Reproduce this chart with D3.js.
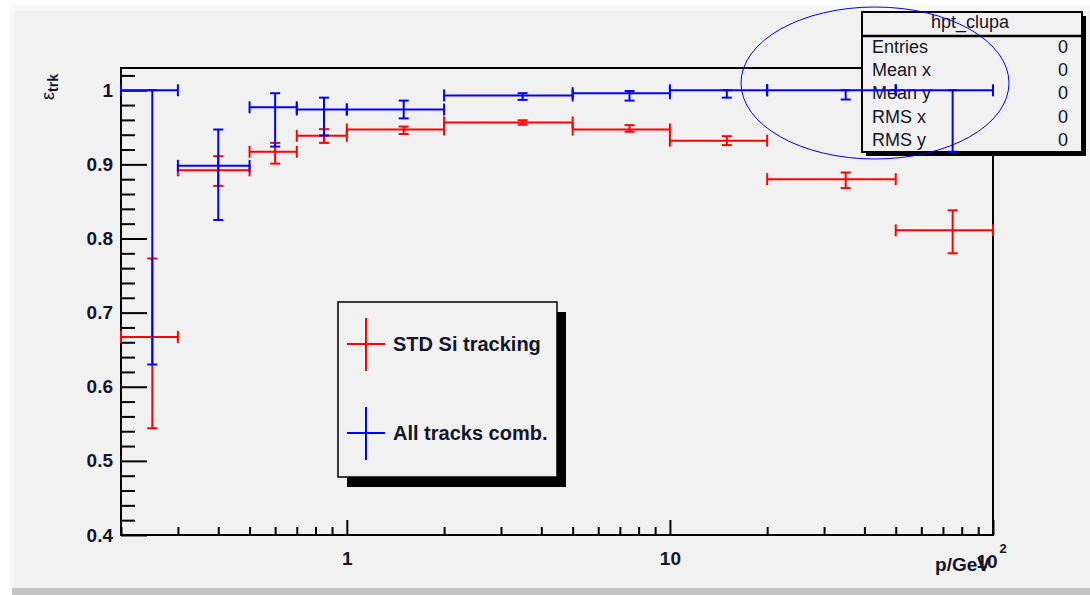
<!DOCTYPE html>
<html>
<head>
<meta charset="utf-8">
<script src="https://cdn.jsdelivr.net/npm/d3@7"></script>
<style>
  body { margin: 0; background: #fff; }
  svg { display: block; font-family: "Liberation Sans", Arial, sans-serif; }
</style>
</head>
<body>
<div id="chart"></div>
<script>
// bins in momentum (GeV)
const binLo = [0.2, 0.3, 0.5, 0.7, 1, 2, 5, 10, 20, 50];
const binHi = [0.3, 0.5, 0.7, 1, 2, 5, 10, 20, 50, 100];
const pCenter = [0.25, 0.4, 0.6, 0.85, 1.5, 3.5, 7.5, 15, 35, 75];

// STD Si tracking
const stdEff = [0.667, 0.892, 0.917, 0.9385, 0.947, 0.9565, 0.947, 0.932, 0.880, 0.811];
const stdErrUp = [0.106, 0.019, 0.012, 0.009, 0.004, 0.003, 0.006, 0.006, 0.009, 0.027];
const stdErrDown = [0.123, 0.021, 0.016, 0.0095, 0.006, 0.003, 0.003, 0.006, 0.012, 0.031];

// All tracks comb.
const allEff = [1.0, 0.898, 0.977, 0.974, 0.974, 0.993, 0.996, 1.0, 1.0, 1.0];
const allErrUp = [0, 0.049, 0.019, 0.016, 0.012, 0.003, 0.003, 0, 0, 0];
const allErrDown = [0.37, 0.073, 0.053, 0.035, 0.012, 0.006, 0.010, 0.010, 0.0125, 0.083];

// axis ticks
const yMajor = [0.4, 0.5, 0.6, 0.7, 0.8, 0.9, 1];
const yLabels = ["0.4", "0.5", "0.6", "0.7", "0.8", "0.9", "1"];
const xMajor = [1, 10, 100];
const xLabels = ["1", "10", ""];

const statNames = ["Entries", "Mean x", "Mean y", "RMS x", "RMS y"];
const statValues = ["0", "0", "0", "0", "0"];

const W = 1090, H = 595;
const svg = d3.select("#chart").append("svg").attr("width", W).attr("height", H);

// canvas
svg.append("rect").attr("width", W).attr("height", H).attr("fill", "#fff");
svg.append("rect").attr("x", 10).attr("y", 5).attr("width", W - 10).attr("height", 585).attr("fill", "#f7f7f7");
svg.append("rect").attr("x", 14).attr("y", 11).attr("width", W - 14).attr("height", 577).attr("fill", "#f1f1f1");
svg.append("rect").attr("x", 12).attr("y", 588).attr("width", W - 12).attr("height", 7).attr("fill", "#c4c4c4");

const padL = 121, padR = 993, padT = 68, padB = 535;
const x = d3.scaleLog().domain([0.2, 100]).range([padL, padR]);
const y = d3.scaleLinear().domain([0.4, 1.03]).range([padB, padT]);

// frame
svg.append("rect").attr("x", padL).attr("y", padT)
   .attr("width", padR - padL).attr("height", padB - padT)
   .attr("fill", "none").attr("stroke", "#000").attr("stroke-width", 2);

// y axis
const yMinor = d3.range(0.42, 1.03, 0.02).filter(v => !yMajor.some(m => Math.abs(m - v) < 1e-6));
svg.append("g").attr("transform", `translate(${padL},0)`)
   .call(d3.axisLeft(y).tickValues(yMajor).tickSize(-26).tickPadding(8)
        .tickFormat((d, i) => yLabels[i]));
svg.append("g").attr("transform", `translate(${padL},0)`)
   .call(d3.axisLeft(y).tickValues(yMinor).tickSize(-14).tickFormat(""));

// x axis
const xMinor = [];
[0.1, 1, 10].forEach(dec => { for (let k = 2; k <= 9; k++) { const v = k * dec; if (v >= 0.2) xMinor.push(v); } });
svg.append("g").attr("transform", `translate(0,${padB})`)
   .call(d3.axisBottom(x).tickValues(xMajor).tickSize(-15).tickPadding(17)
        .tickFormat((d, i) => xLabels[i]));
svg.append("g").attr("transform", `translate(0,${padB})`)
   .call(d3.axisBottom(x).tickValues(xMinor).tickSize(-8).tickFormat(""));

svg.selectAll(".domain").remove();
svg.selectAll(".tick line").attr("stroke", "#000").attr("stroke-width", 2);
svg.selectAll(".tick text").attr("fill", "#14142a").attr("font-size", 19)
   .attr("font-weight", "bold").attr("font-family", "Liberation Sans, Arial, sans-serif");

// 10^2 label and axis titles
const lab = svg.append("g").attr("fill", "#14142a").attr("font-weight", "bold");
lab.append("text").attr("x", x(100) - 6).attr("y", 568).attr("text-anchor", "middle")
   .attr("font-size", 19).text("10");
lab.append("text").attr("x", x(100) + 10).attr("y", 553).attr("text-anchor", "middle")
   .attr("font-size", 13).text("2");
lab.append("text").attr("x", 990).attr("y", 571).attr("text-anchor", "end")
   .attr("font-size", 19).text("p/GeV");

const yt = svg.append("text").attr("transform", "translate(54,100) rotate(-90)")
   .attr("fill", "#14142a").attr("font-size", 18);
yt.append("tspan").text("\u03b5");
yt.append("tspan").attr("dy", 4).attr("font-size", 14).attr("font-weight", "bold").text("trk");

// stats box
const st = svg.append("g");
st.append("rect").attr("x", 866).attr("y", 16).attr("width", 220).attr("height", 140).attr("fill", "#000");
st.append("rect").attr("x", 862).attr("y", 12).attr("width", 220).attr("height", 140)
  .attr("fill", "#f1f1f1").attr("stroke", "#000").attr("stroke-width", 2);
st.append("line").attr("x1", 862).attr("x2", 1082).attr("y1", 36).attr("y2", 36)
  .attr("stroke", "#000").attr("stroke-width", 2.5);
st.append("text").attr("x", 970).attr("y", 28).attr("text-anchor", "middle")
  .attr("font-size", 18).attr("fill", "#14142a").text("hpt_clupa");
statNames.forEach((n, i) => {
  st.append("text").attr("x", 872).attr("y", 53 + i * 23.2).attr("font-size", 18)
    .attr("fill", "#14142a").text(n);
  st.append("text").attr("x", 1068).attr("y", 53 + i * 23.2).attr("font-size", 18)
    .attr("text-anchor", "end").attr("fill", "#14142a").text(statValues[i]);
});

// legend
const lg = svg.append("g");
lg.append("rect").attr("x", 347).attr("y", 312).attr("width", 219).attr("height", 175).attr("fill", "#000");
lg.append("rect").attr("x", 338).attr("y", 302).attr("width", 219).attr("height", 175)
  .attr("fill", "#f1f1f1").attr("stroke", "#000").attr("stroke-width", 1.5);
const legItems = [
  { name: "STD Si tracking", color: "#ff0000", cy: 344 },
  { name: "All tracks comb.", color: "#0000ff", cy: 433 }
];
legItems.forEach(d => {
  lg.append("line").attr("x1", 347).attr("x2", 385).attr("y1", d.cy).attr("y2", d.cy)
    .attr("stroke", d.color).attr("stroke-width", 2);
  lg.append("line").attr("x1", 366).attr("x2", 366).attr("y1", d.cy - 26).attr("y2", d.cy + 27)
    .attr("stroke", d.color).attr("stroke-width", 2);
  lg.append("text").attr("x", 393).attr("y", d.cy + 7).attr("font-size", 20)
    .attr("font-weight", "bold").attr("fill", "#14142a").text(d.name);
});

// error bar graphs
function drawGraph(eff, up, down, color) {
  const g = svg.append("g").attr("stroke", color).attr("stroke-width", 2).attr("fill", "none");
  const pts = pCenter.map((p, i) => ({ p, lo: binLo[i], hi: binHi[i], v: eff[i], u: up[i], d: down[i] }));
  pts.forEach(d => {
    const cx = x(d.p), cy = y(d.v);
    // x error
    g.append("line").attr("x1", x(d.lo)).attr("x2", x(d.hi)).attr("y1", cy).attr("y2", cy);
    g.append("line").attr("x1", x(d.lo)).attr("x2", x(d.lo)).attr("y1", cy - 6).attr("y2", cy + 6);
    g.append("line").attr("x1", x(d.hi)).attr("x2", x(d.hi)).attr("y1", cy - 6).attr("y2", cy + 6);
    // y error
    g.append("line").attr("x1", cx).attr("x2", cx).attr("y1", y(d.v + d.u)).attr("y2", y(d.v - d.d));
    g.append("line").attr("x1", cx - 5).attr("x2", cx + 5).attr("y1", y(d.v + d.u)).attr("y2", y(d.v + d.u));
    g.append("line").attr("x1", cx - 5).attr("x2", cx + 5).attr("y1", y(d.v - d.d)).attr("y2", y(d.v - d.d));
  });
}
drawGraph(stdEff, stdErrUp, stdErrDown, "#ff0000");
drawGraph(allEff, allErrUp, allErrDown, "#0000ff");

// hand-drawn ellipse
svg.append("ellipse").attr("cx", 875).attr("cy", 83).attr("rx", 134).attr("ry", 76)
   .attr("fill", "none").attr("stroke", "#0000ff").attr("stroke-width", 1);
</script>
</body>
</html>
